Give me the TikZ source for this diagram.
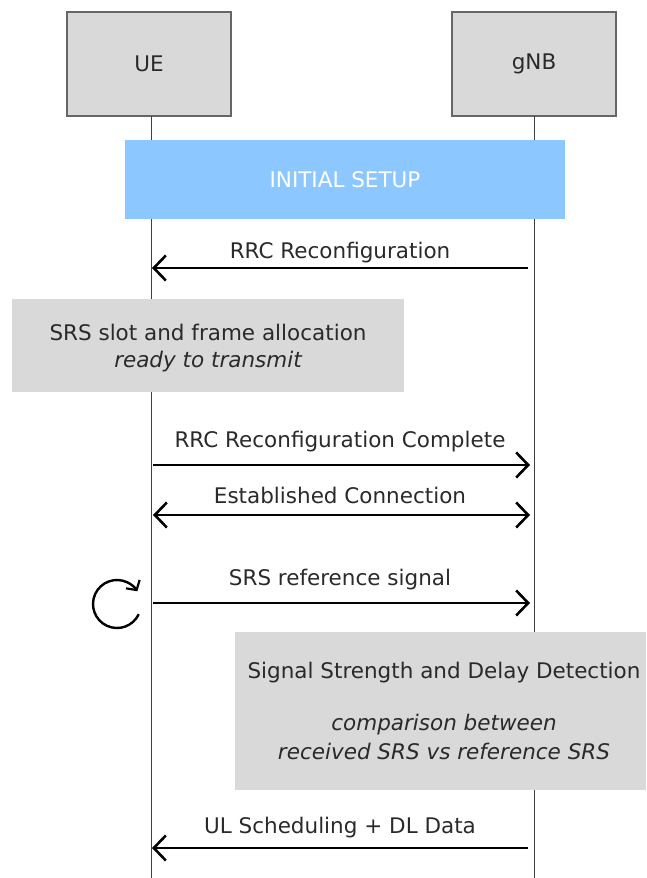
\documentclass[tikz,border=0pt]{standalone}
\usepackage{fontspec}
\setmainfont{DejaVu Sans}
\usetikzlibrary{arrows.meta,calc}
\definecolor{boxgray}{HTML}{D9D9D9}
\definecolor{setupblue}{HTML}{8CC8FF}
\definecolor{txt}{HTML}{2A2A2A}
\tikzset{mytip/.tip={Straight Barb[length=12pt,width=25pt,line width=2.6pt]}}
\begin{document}
\begin{tikzpicture}[x=1pt,y=-1pt,
  font=\fontsize{21.5}{26}\selectfont,
  actor/.style={draw=black!60,line width=1.2pt,fill=boxgray,minimum width=164pt,minimum height=104pt,text=txt},
  life/.style={draw=black!75,line width=1pt},
  msg/.style={line width=2.9pt,-mytip},
  dmsg/.style={line width=2.9pt,mytip-mytip},
  lbl/.style={text=txt,anchor=base},
  note/.style={fill=boxgray,draw=none,text=txt,align=center}]
\useasboundingbox (0,0) rectangle (646,878);
% actors
\node[actor] (ue) at (149,64) {UE};
\node[actor] (gnb) at (534,64) {gNB};
\coordinate (ueend) at (151,878);
\coordinate (gnbend) at (534,878);
\draw[life] (151,116) -- (ueend);
\draw[life] (534,116) -- (gnbend);
% initial setup
\node[fill=setupblue,minimum width=440pt,minimum height=79pt,text=white] (setup) at (345,179.5) {INITIAL SETUP};
% RRC Reconfiguration
\coordinate (a1s) at (528,268);
\coordinate (a1e) at (152,268);
\draw[msg] (a1s) -- (a1e);
\node[lbl] (l1) at (340,258) {RRC Reconfiguration};
% SRS slot box
\node[note,minimum width=392pt,minimum height=93pt] (slot) at (208,345.5) {};
\node[lbl] (slot1) at (208,340) {SRS slot and frame allocation};
\node[lbl] (slot2) at (208,367) {\itshape ready to transmit};
% RRC Reconfiguration Complete
\coordinate (a2s) at (153,465);
\coordinate (a2e) at (530,465);
\draw[msg] (a2s) -- (a2e);
\node[lbl] (l2) at (340,447) {RRC Reconfiguration Complete};
% Established connection
\coordinate (a3s) at (153,515);
\coordinate (a3e) at (530,515);
\draw[dmsg] (a3s) -- (a3e);
\node[lbl] (l3) at (340,503) {Established Connection};
% SRS reference signal
\coordinate (a4s) at (153,603);
\coordinate (a4e) at (530,603);
\draw[msg] (a4s) -- (a4e);
\node[lbl] (l4) at (340,585) {SRS reference signal};
\coordinate (loopc) at (117,604);
\draw[line width=2.4pt,-{Straight Barb[length=7pt,width=16pt,line width=2.2pt]}] ($(loopc)+(25:24)$) arc[start angle=25,end angle=328,radius=24];
% detection box
\node[note,minimum width=411pt,minimum height=158pt] (det) at (440.5,711) {};
\node[lbl] (det1) at (444,678) {Signal Strength and Delay Detection};
\node[lbl] (det2) at (444,730) {\itshape comparison between};
\node[lbl] (det3) at (444,759) {\itshape received SRS vs reference SRS};
% UL scheduling
\coordinate (a5s) at (528,848);
\coordinate (a5e) at (152,848);
\draw[msg] (a5s) -- (a5e);
\node[lbl] (l5) at (340,833) {UL Scheduling + DL Data};
\end{tikzpicture}
\end{document}
